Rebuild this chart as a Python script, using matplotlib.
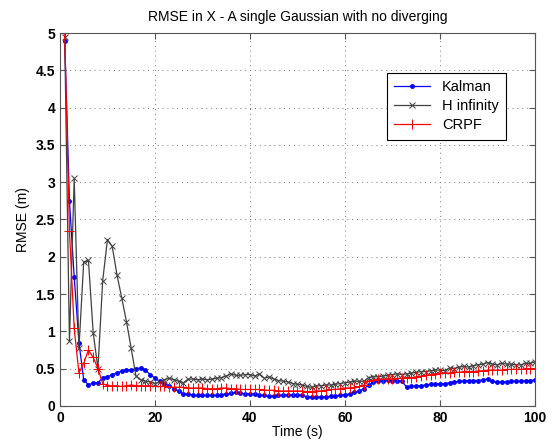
import numpy as np
import matplotlib
matplotlib.use('Agg')
import matplotlib.pyplot as plt

plt.rcParams['font.family'] = ['Liberation Sans', 'DejaVu Sans']

# RMSE per time step (s = 1..100)
time_s = np.arange(1, 101)

kalman = [4.90, 2.75, 1.73, 0.85, 0.35, 0.28, 0.31, 0.31, 0.38, 0.39,
          0.42, 0.44, 0.47, 0.48, 0.48, 0.50, 0.51, 0.48, 0.42, 0.37,
          0.33, 0.30, 0.27, 0.23, 0.20, 0.16, 0.16, 0.14, 0.14, 0.14,
          0.14, 0.14, 0.14, 0.15, 0.16, 0.17, 0.18, 0.17, 0.16, 0.16,
          0.16, 0.14, 0.14, 0.13, 0.13, 0.14, 0.14, 0.15, 0.15, 0.15,
          0.14, 0.12, 0.12, 0.12, 0.12, 0.12, 0.13, 0.13, 0.14, 0.15,
          0.16, 0.18, 0.20, 0.23, 0.28, 0.32, 0.34, 0.34, 0.35, 0.34,
          0.34, 0.33, 0.25, 0.26, 0.27, 0.27, 0.28, 0.29, 0.29, 0.30,
          0.30, 0.31, 0.32, 0.33, 0.33, 0.34, 0.34, 0.34, 0.35, 0.36,
          0.33, 0.32, 0.32, 0.32, 0.33, 0.33, 0.33, 0.34, 0.34, 0.35]

h_inf = [4.95, 0.87, 3.05, 0.77, 1.93, 1.95, 0.98, 0.50, 1.68, 2.23,
         2.14, 1.76, 1.45, 1.13, 0.77, 0.40, 0.35, 0.33, 0.32, 0.30,
         0.32, 0.35, 0.37, 0.35, 0.33, 0.31, 0.36, 0.36, 0.35, 0.36,
         0.35, 0.36, 0.37, 0.38, 0.40, 0.43, 0.41, 0.41, 0.42, 0.42,
         0.40, 0.43, 0.37, 0.39, 0.36, 0.34, 0.33, 0.32, 0.30, 0.29,
         0.28, 0.26, 0.25, 0.27, 0.27, 0.28, 0.28, 0.29, 0.30, 0.31,
         0.32, 0.33, 0.33, 0.33, 0.38, 0.39, 0.39, 0.40, 0.41, 0.42,
         0.43, 0.42, 0.43, 0.44, 0.45, 0.46, 0.46, 0.47, 0.48, 0.48,
         0.47, 0.51, 0.50, 0.52, 0.53, 0.52, 0.54, 0.55, 0.56, 0.58,
         0.56, 0.55, 0.57, 0.56, 0.56, 0.55, 0.55, 0.57, 0.57, 0.59]

crpf = [5.00, 2.35, 1.04, 0.44, 0.57, 0.75, 0.65, 0.50, 0.30, 0.27,
        0.27, 0.27, 0.26, 0.27, 0.28, 0.27, 0.27, 0.27, 0.27, 0.26,
        0.26, 0.26, 0.25, 0.25, 0.25, 0.25, 0.24, 0.24, 0.24, 0.24,
        0.23, 0.23, 0.23, 0.24, 0.24, 0.23, 0.23, 0.22, 0.22, 0.22,
        0.22, 0.22, 0.21, 0.21, 0.21, 0.20, 0.20, 0.20, 0.20, 0.20,
        0.20, 0.19, 0.19, 0.20, 0.20, 0.21, 0.22, 0.22, 0.23, 0.24,
        0.24, 0.25, 0.26, 0.28, 0.33, 0.35, 0.36, 0.36, 0.36, 0.36,
        0.37, 0.37, 0.38, 0.38, 0.39, 0.40, 0.41, 0.42, 0.43, 0.44,
        0.44, 0.44, 0.45, 0.45, 0.46, 0.46, 0.46, 0.47, 0.47, 0.48,
        0.48, 0.48, 0.48, 0.49, 0.49, 0.49, 0.49, 0.50, 0.50, 0.50]

fig = plt.figure(figsize=(5.55, 4.47), dpi=100)
ax = fig.add_axes([0.108, 0.092, 0.856, 0.834])

ax.plot(time_s, kalman, color='blue', linewidth=0.9, marker='.', markersize=5, label='Kalman')
ax.plot(time_s, h_inf, color='#404040', linewidth=0.9, marker='x', markersize=5,
        markeredgewidth=0.7, label='H infinity')
ax.plot(time_s, crpf, color='red', linewidth=0.9, marker='+', markersize=7,
        markeredgewidth=0.7, label='CRPF')

ax.set_xlim(0, 100)
ax.set_ylim(0, 5)
ax.set_xticks(np.arange(0, 101, 20))
ax.set_yticks(np.arange(0, 5.01, 0.5))
ax.set_yticklabels(['0', '0.5', '1', '1.5', '2', '2.5', '3', '3.5', '4', '4.5', '5'])

ax.grid(True, linestyle=(0, (1, 4)), color='#777777', linewidth=0.7)
ax.tick_params(direction='in', length=4, top=True, right=True, color='#555555',
               labelsize=10)
for lbl in ax.get_xticklabels() + ax.get_yticklabels():
    lbl.set_fontweight('bold')
for sp in ax.spines.values():
    sp.set_color('#555555')

ax.set_title('RMSE in X - A single Gaussian with no diverging', fontsize=10, pad=9)
ax.set_xlabel('Time (s)', fontsize=10, labelpad=0)
ax.set_ylabel('RMSE (m)', fontsize=10, labelpad=4)

leg = ax.legend(loc='upper right', bbox_to_anchor=(0.939, 0.893), borderaxespad=0,
                fontsize=10.5, fancybox=False, framealpha=1, edgecolor='black',
                borderpad=0.5, handlelength=2.5, labelspacing=0.35)
leg.get_frame().set_linewidth(0.8)

fig.savefig('out.png', dpi=100)
